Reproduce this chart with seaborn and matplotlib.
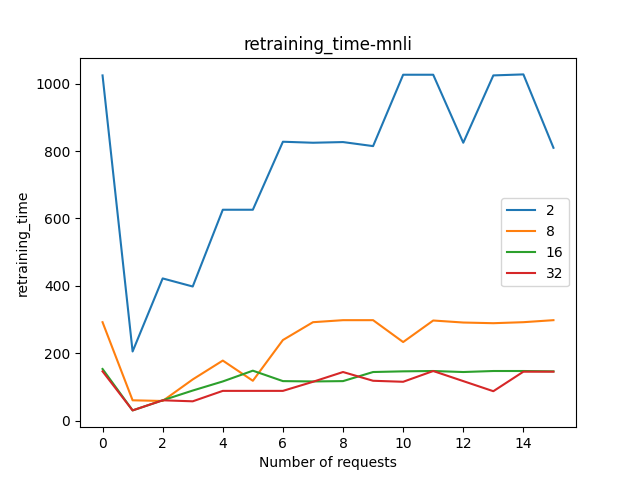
import pandas as pd
import matplotlib
matplotlib.use("Agg")
import matplotlib.pyplot as plt
import seaborn as sns

requests = list(range(16))
t2 = [1025, 205, 422, 398, 626, 626, 828, 825, 827, 815, 1027, 1027, 825, 1025, 1028, 810]
t8 = [292, 60, 58, 122, 178, 118, 239, 292, 298, 298, 233, 297, 291, 289, 292, 298]
t16 = [153, 30, 60, 89, 116, 148, 117, 116, 117, 144, 146, 147, 144, 147, 147, 146]
t32 = [146, 30, 60, 57, 88, 88, 88, 115, 144, 118, 115, 147, 117, 87, 145, 145]
series = {"2": t2, "8": t8, "16": t16, "32": t32}

rows = []
for name, vals in series.items():
    for r, v in zip(requests, vals):
        rows.append({"requests": r, "time": v, "batch": name})
df = pd.DataFrame(rows)

fig, ax = plt.subplots(figsize=(6.4, 4.8), dpi=100)
sns.lineplot(data=df, x="requests", y="time", hue="batch", palette="tab10", ax=ax, linewidth=1.5)
ax.legend(loc="center right")
ax.set_title("retraining_time-mnli")
ax.set_xlabel("Number of requests")
ax.set_ylabel("retraining_time")
plt.savefig("out.png")
